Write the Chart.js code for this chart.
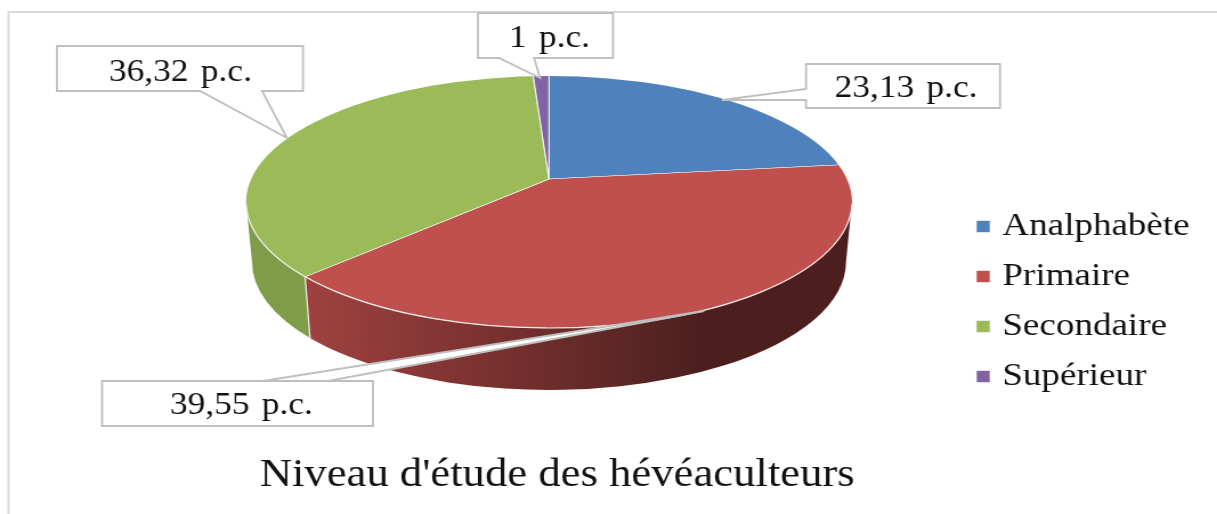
<!DOCTYPE html>
<html lang="fr">
<head>
<meta charset="utf-8">
<style>
html,body{margin:0;padding:0;background:#fff;overflow:hidden;width:1217px;height:514px}
canvas{display:block;transform-origin:0 0;transform:scaleX(1.1406)}
</style>
<script src="https://cdn.jsdelivr.net/npm/chart.js@4"></script>
</head>
<body>
<canvas id="c" width="1067" height="514"></canvas>
<script>
const categories = ['Analphabète', 'Primaire', 'Secondaire', 'Supérieur'];
const values = [23.13, 39.55, 36.32, 1];
const titleText = "Niveau d'étude des hévéaculteurs";
const colors = ['#4f81bd', '#c0504d', '#9bbb59', '#8064a2'];
const unit = ' p.c.';

// The reference is a horizontally stretched picture: the canvas is stretched the same way.
const SX = 1217 / 1067;
const X = x => x / SX;
// Geometry of the tilted pie, in reference pixels
const apex = {x: 549, y: 179};
const tilt = 0.41;
const top3d = {x: 549, y: 202, rx: 303, ry: 126};
const bot3d = {x: 549, y: 262, rx: 297, ry: 128};
const reach = 400;
const wallStops = [
  null,
  [[0, '#9e4240'], [0.30, '#7d3331'], [0.58, '#5c2725'], [0.72, '#4c1f1e'], [1, '#4c1f1e']],
  [[0, '#7f9c48'], [1, '#7c9946']],
  null
];
const callouts = [
  {i: 0, box: [806, 64, 1000, 108], edge: 'left', base: [89, 100], tip: [722, 100], tx: 906, ty: 97},
  {i: 1, box: [102, 381, 373, 426], edge: 'top', base: [263, 328], tip: [704, 311], tx: 241.5, ty: 414},
  {i: 2, box: [57, 46, 303, 91], edge: 'bottom', base: [200, 262], tip: [287, 138], tx: 180.5, ty: 81},
  {i: 3, box: [478, 13, 613, 58], edge: 'bottom', base: [499, 534], tip: [540, 78], tx: 549.5, ty: 47}
];

function rimParam(a) {
  const dx = Math.cos(a) / top3d.rx, dy = tilt * Math.sin(a) / top3d.ry, oy = (apex.y - top3d.y) / top3d.ry;
  const A = dx * dx + dy * dy, B = 2 * oy * dy, C = oy * oy - 1;
  const u = (-B + Math.sqrt(B * B - 4 * A * C)) / (2 * A);
  return Math.atan2(oy + u * dy, u * dx);
}
function ellipsePt(e, t) { return [X(e.x + e.rx * Math.cos(t)), e.y + e.ry * Math.sin(t)]; }

const pie3d = {
  id: 'pie3d',
  afterLayout(chart) {
    const l = chart.legend, dx = 6, dy = 47;
    l.left += dx; l.right += dx; l.top += dy; l.bottom += dy;
    const t = chart.titleBlock;
    t.left -= 40; t.right -= 40;
  },
  beforeDraw(chart) {
    const c = chart.ctx;
    c.save();
    c.strokeStyle = '#d9d9d9'; c.lineWidth = 2;
    c.beginPath(); c.moveTo(X(8.5), 514); c.lineTo(X(8.5), 12); c.lineTo(1067, 12); c.stroke();
    c.restore();
  },
  beforeDatasetsDraw(chart) {
    const c = chart.ctx, arcs = chart.getDatasetMeta(0).data;
    arcs.forEach((arc, i) => {
      const stops = wallStops[i];
      if (!stops) return;
      let ts = rimParam(arc.startAngle), te = rimParam(arc.endAngle);
      while (te < ts) te += 2 * Math.PI;
      const a = Math.max(ts, 0), b = Math.min(te, Math.PI);
      if (b <= a) return;
      const g = c.createLinearGradient(X(310), 0, X(852), 0);
      stops.forEach(s => g.addColorStop(s[0], s[1]));
      c.save();
      c.beginPath();
      c.ellipse(X(top3d.x), top3d.y, top3d.rx / SX, top3d.ry, 0, a, b);
      c.ellipse(X(bot3d.x), bot3d.y, bot3d.rx / SX, bot3d.ry, 0, b, a, true);
      c.closePath();
      c.fillStyle = g; c.fill();
      c.restore();
    });
    arcs.forEach(arc => {
      const ts = rimParam(arc.startAngle);
      if (ts > 0 && ts < Math.PI) {
        const p = ellipsePt(top3d, ts), q = ellipsePt(bot3d, ts);
        c.save(); c.strokeStyle = '#e8ebe0'; c.lineWidth = 1.3;
        c.beginPath(); c.moveTo(p[0], p[1]); c.lineTo(q[0], q[1]); c.stroke(); c.restore();
      }
    });
    c.save();
    c.beginPath();
    c.ellipse(X(top3d.x), top3d.y, top3d.rx / SX, top3d.ry, 0, 0, 2 * Math.PI);
    c.clip();
    const arc = arcs[0], R = arc.outerRadius;
    c.translate(X(apex.x), apex.y);
    c.scale(reach / SX / R, reach * tilt / R);
    c.translate(-arc.x, -arc.y);
  },
  afterDatasetsDraw(chart) {
    const c = chart.ctx;
    c.restore();
    c.save();
    c.strokeStyle = '#f4f0ec'; c.lineWidth = 1.2;
    c.beginPath();
    c.ellipse(X(top3d.x), top3d.y, top3d.rx / SX, top3d.ry, 0, 0.02, Math.PI - 0.02);
    c.stroke();
    c.restore();
    callouts.forEach(k => {
      const [x0, y0, x1, y1] = k.box;
      c.save();
      c.beginPath();
      c.moveTo(X(x0), y0);
      c.lineTo(X(x1), y0);
      c.lineTo(X(x1), y1);
      if (k.edge === 'bottom') {
        c.lineTo(X(k.base[1]), y1); c.lineTo(X(k.tip[0]), k.tip[1]); c.lineTo(X(k.base[0]), y1);
      }
      c.lineTo(X(x0), y1);
      if (k.edge === 'left') {
        c.lineTo(X(x0), k.base[1]); c.lineTo(X(k.tip[0]), k.tip[1]); c.lineTo(X(x0), k.base[0]);
      }
      if (k.edge === 'top') {
        c.lineTo(X(x0), y0);
        c.lineTo(X(k.base[0]), y0); c.lineTo(X(k.tip[0]), k.tip[1]); c.lineTo(X(k.base[1]), y0);
      }
      c.closePath();
      c.fillStyle = '#fff'; c.fill();
      c.strokeStyle = '#bfbfbf'; c.lineWidth = 1.8; c.lineJoin = 'miter'; c.stroke();
      c.fillStyle = '#111';
      c.font = '31px "Liberation Serif"';
      c.textAlign = 'center'; c.textBaseline = 'alphabetic';
      c.wordSpacing = '3px';
      c.fillText(String(values[k.i]).replace('.', ',') + unit, X(k.tx), k.ty);
      c.restore();
    });
  }
};

new Chart(document.getElementById('c'), {
  type: 'pie',
  data: {
    labels: categories,
    datasets: [{data: values, backgroundColor: colors, borderColor: '#f2f2f2', borderWidth: 0.7, clip: false}]
  },
  options: {
    responsive: false,
    animation: false,
    rotation: 0,
    layout: {padding: {top: 10, right: 20, bottom: 15, left: 10}},
    plugins: {
      tooltip: {enabled: false},
      title: {
        display: true, text: titleText, position: 'bottom', color: '#111',
        font: {family: '"Liberation Serif"', size: 39.2, weight: 'normal'}, padding: {top: 0, bottom: 0}
      },
      legend: {
        position: 'right',
        labels: {
          color: '#111', boxWidth: 1, boxHeight: 12, usePointStyle: true, pointStyle: 'rect', padding: 17.5,
          font: {family: '"Liberation Serif"', size: 32.5}
        }
      }
    }
  },
  plugins: [pie3d]
});
</script>
</body>
</html>
